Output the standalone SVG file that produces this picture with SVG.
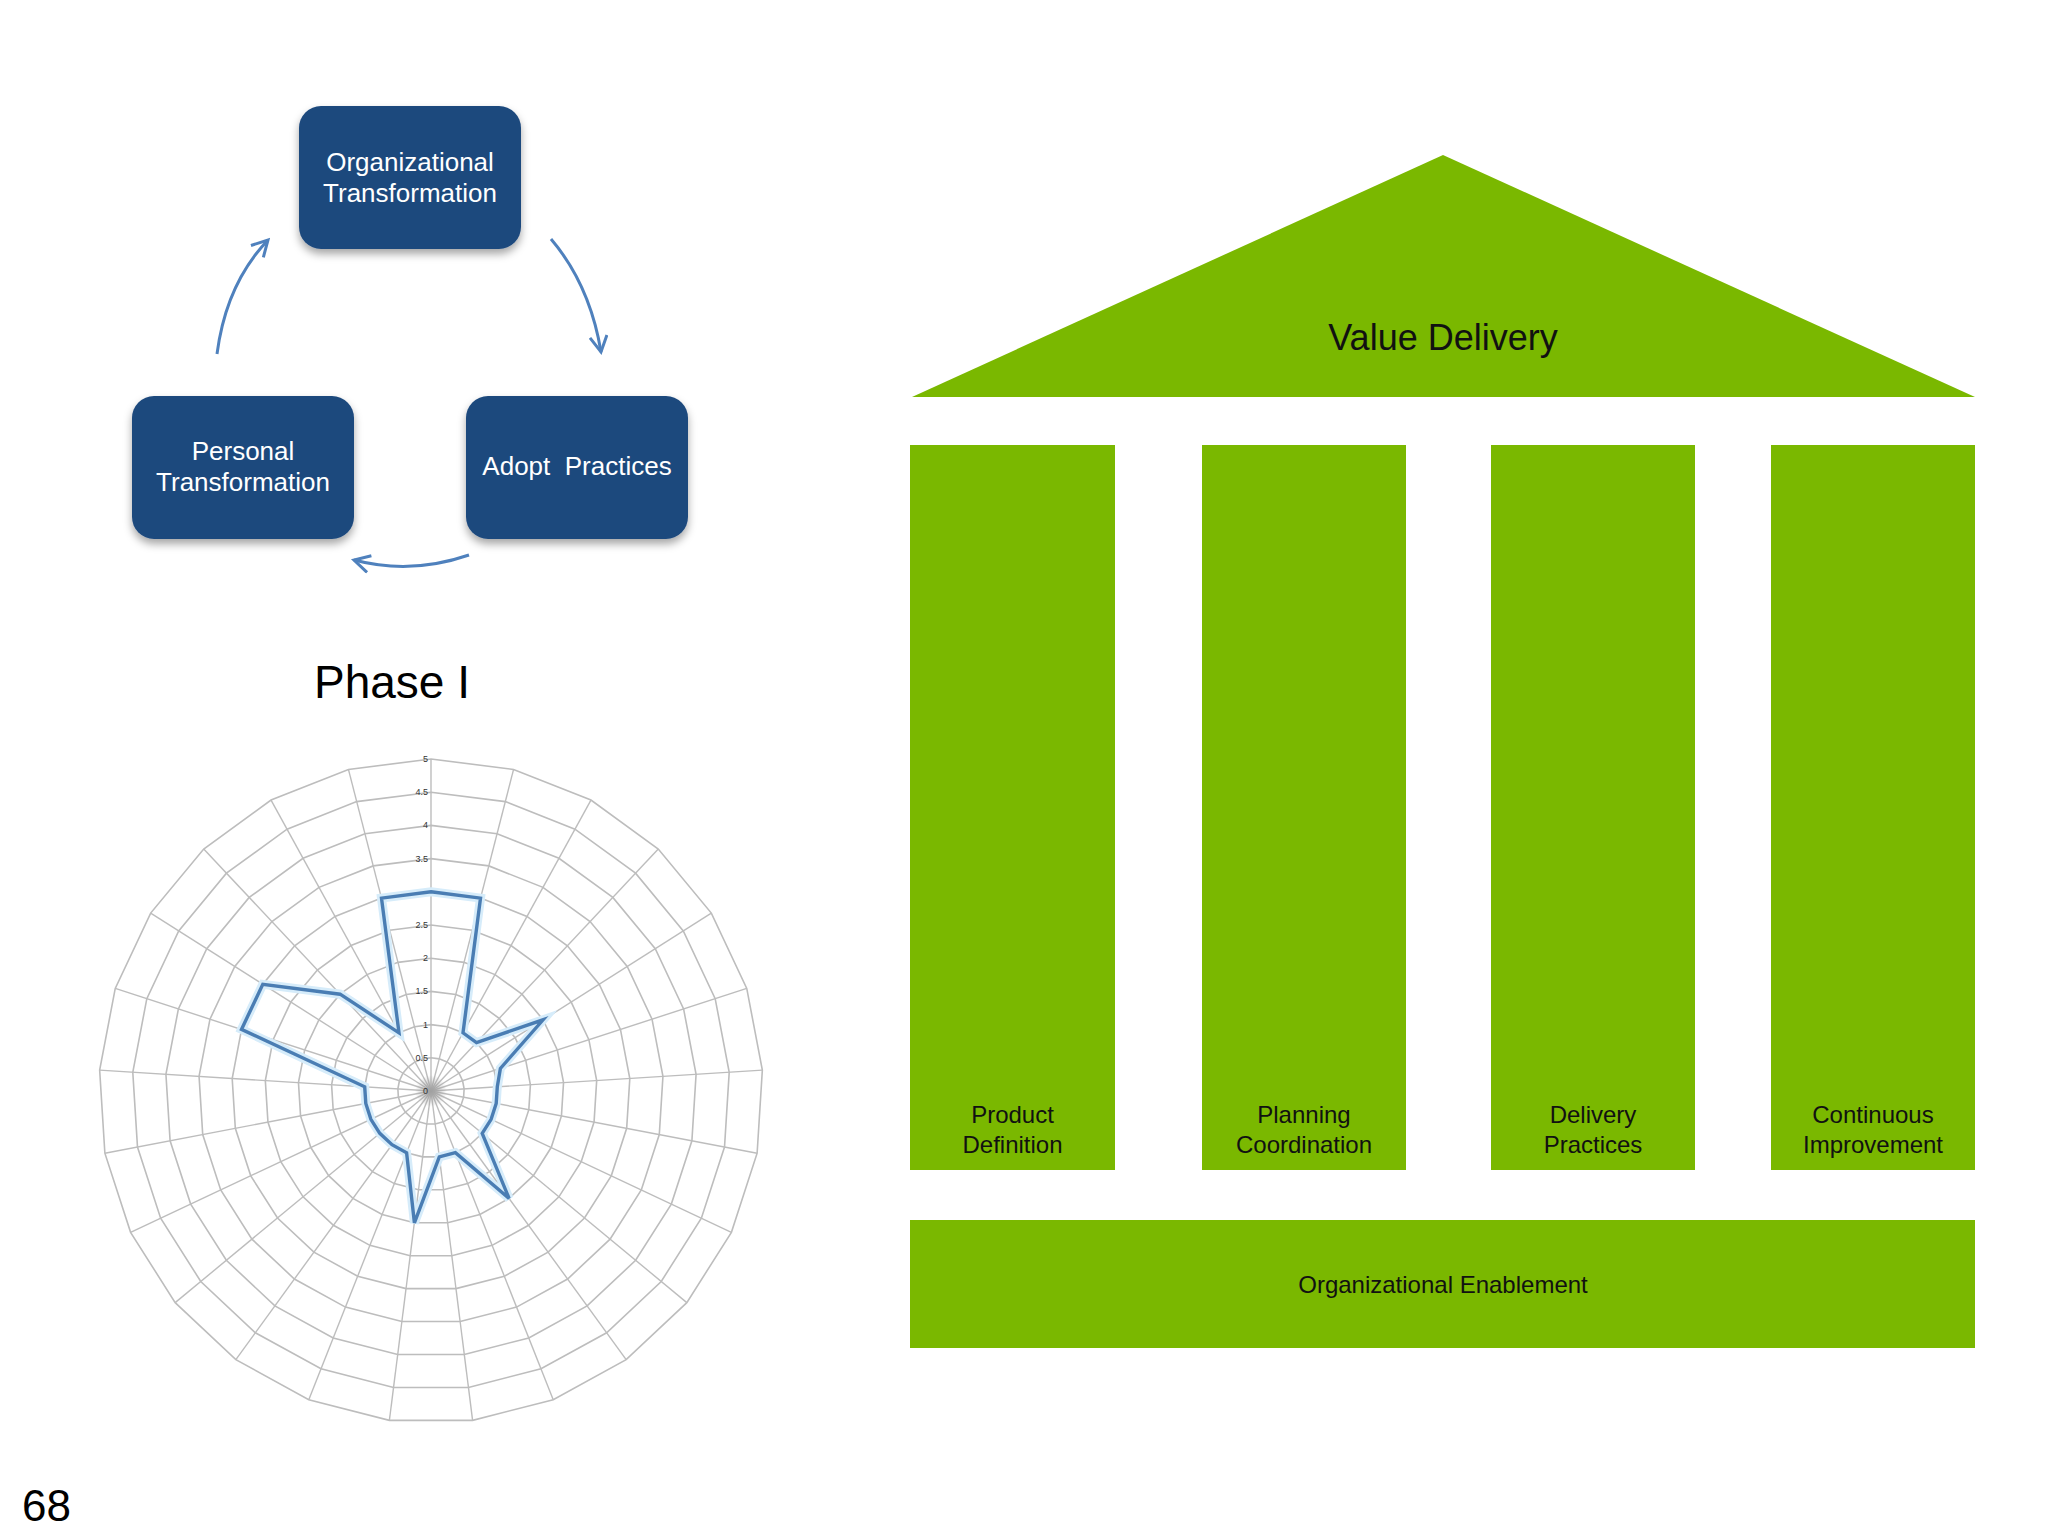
<svg xmlns="http://www.w3.org/2000/svg" xmlns:xlink="http://www.w3.org/1999/xlink" width="2048" height="1536" viewBox="0 0 2048 1536">
  <style>
    .box { fill: #1f497d; }
    .boxtxt { font-family: "Liberation Sans", Arial, sans-serif; font-size: 26px; fill: #ffffff; text-anchor: middle; }
    .arrow { fill: none; stroke: #4f81bd; stroke-width: 3; marker-end: url(#vhead); }
    .green { fill: #7ab800; }
    .gtxt { font-family: "Liberation Sans", Arial, sans-serif; font-size: 24px; fill: #111111; text-anchor: middle; }
    .grid { fill: none; stroke: #bdbdbd; stroke-width: 1.6; vector-effect: non-scaling-stroke; }
    .spoke { stroke: #bdbdbd; stroke-width: 1.4; }
    .axlbl { font-family: "Liberation Sans", Arial, sans-serif; font-size: 9px; fill: #333333; text-anchor: end; }
  </style>
  <defs>
    <filter id="shadow" x="-20%" y="-20%" width="140%" height="150%">
      <feDropShadow dx="0" dy="5" stdDeviation="4" flood-color="#000000" flood-opacity="0.35"/>
    </filter>
    <marker id="vhead" viewBox="0 0 14 14" refX="12" refY="7" markerWidth="20" markerHeight="20" markerUnits="userSpaceOnUse" orient="auto">
      <path d="M1,1 L12,7 L1,13" fill="none" stroke="#4f81bd" stroke-width="2.1"/>
    </marker>
    <radialGradient id="hub">
      <stop offset="0" stop-color="#999999" stop-opacity="0.8"/>
      <stop offset="1" stop-color="#999999" stop-opacity="0"/>
    </radialGradient>
    <polygon id="ring" class="grid" points="0,-1 0.24869,-0.96858 0.48175,-0.87631 0.68455,-0.72897 0.84433,-0.53583 0.95106,-0.30902 0.99803,-0.06279 0.98229,0.18738 0.90483,0.42578 0.77051,0.63742 0.58779,0.80902 0.36812,0.92978 0.12533,0.99211 -0.12533,0.99211 -0.36812,0.92978 -0.58779,0.80902 -0.77051,0.63742 -0.90483,0.42578 -0.98229,0.18738 -0.99803,-0.06279 -0.95106,-0.30902 -0.84433,-0.53583 -0.68455,-0.72897 -0.48175,-0.87631 -0.24869,-0.96858"/>
    <line id="spoke" class="spoke" x1="0" y1="0" x2="0" y2="-332"/>
  </defs>

  <rect width="2048" height="1536" fill="#ffffff"/>

  <!-- Cycle diagram nodes -->
  <g id="node-org-transformation">
    <rect class="box" x="299" y="106" width="222" height="143" rx="22" filter="url(#shadow)"/>
    <text class="boxtxt" x="410" y="171">Organizational</text>
    <text class="boxtxt" x="410" y="202">Transformation</text>
  </g>
  <g id="node-personal-transformation">
    <rect class="box" x="132" y="396" width="222" height="143" rx="22" filter="url(#shadow)"/>
    <text class="boxtxt" x="243" y="460">Personal</text>
    <text class="boxtxt" x="243" y="491">Transformation</text>
  </g>
  <g id="node-adopt-practices">
    <rect class="box" x="466" y="396" width="222" height="143" rx="22" filter="url(#shadow)"/>
    <text class="boxtxt" x="577" y="475" xml:space="preserve">Adopt  Practices</text>
  </g>

  <g id="connectors">
    <path class="arrow" d="M217,354 Q226,284 268,240"/>
    <path class="arrow" d="M551,239 Q590,285 601,352"/>
    <path class="arrow" d="M469,555 Q411,575 354,560"/>
  </g>

  <!-- Phase I title -->
  <text x="392" y="698" font-family="Liberation Sans, Arial, sans-serif" font-size="46" fill="#000000" text-anchor="middle">Phase I</text>

  <!-- Radar chart -->
  <g id="radar-grid">
    <use xlink:href="#spoke" transform="translate(431,1091) rotate(0)"/>
    <use xlink:href="#spoke" transform="translate(431,1091) rotate(14.4)"/>
    <use xlink:href="#spoke" transform="translate(431,1091) rotate(28.8)"/>
    <use xlink:href="#spoke" transform="translate(431,1091) rotate(43.2)"/>
    <use xlink:href="#spoke" transform="translate(431,1091) rotate(57.6)"/>
    <use xlink:href="#spoke" transform="translate(431,1091) rotate(72)"/>
    <use xlink:href="#spoke" transform="translate(431,1091) rotate(86.4)"/>
    <use xlink:href="#spoke" transform="translate(431,1091) rotate(100.8)"/>
    <use xlink:href="#spoke" transform="translate(431,1091) rotate(115.2)"/>
    <use xlink:href="#spoke" transform="translate(431,1091) rotate(129.6)"/>
    <use xlink:href="#spoke" transform="translate(431,1091) rotate(144)"/>
    <use xlink:href="#spoke" transform="translate(431,1091) rotate(158.4)"/>
    <use xlink:href="#spoke" transform="translate(431,1091) rotate(172.8)"/>
    <use xlink:href="#spoke" transform="translate(431,1091) rotate(187.2)"/>
    <use xlink:href="#spoke" transform="translate(431,1091) rotate(201.6)"/>
    <use xlink:href="#spoke" transform="translate(431,1091) rotate(216)"/>
    <use xlink:href="#spoke" transform="translate(431,1091) rotate(230.4)"/>
    <use xlink:href="#spoke" transform="translate(431,1091) rotate(244.8)"/>
    <use xlink:href="#spoke" transform="translate(431,1091) rotate(259.2)"/>
    <use xlink:href="#spoke" transform="translate(431,1091) rotate(273.6)"/>
    <use xlink:href="#spoke" transform="translate(431,1091) rotate(288)"/>
    <use xlink:href="#spoke" transform="translate(431,1091) rotate(302.4)"/>
    <use xlink:href="#spoke" transform="translate(431,1091) rotate(316.8)"/>
    <use xlink:href="#spoke" transform="translate(431,1091) rotate(331.2)"/>
    <use xlink:href="#spoke" transform="translate(431,1091) rotate(345.6)"/>
    <use xlink:href="#ring" transform="translate(431,1091) scale(33.2)"/>
    <use xlink:href="#ring" transform="translate(431,1091) scale(66.4)"/>
    <use xlink:href="#ring" transform="translate(431,1091) scale(99.6)"/>
    <use xlink:href="#ring" transform="translate(431,1091) scale(132.8)"/>
    <use xlink:href="#ring" transform="translate(431,1091) scale(166)"/>
    <use xlink:href="#ring" transform="translate(431,1091) scale(199.2)"/>
    <use xlink:href="#ring" transform="translate(431,1091) scale(232.4)"/>
    <use xlink:href="#ring" transform="translate(431,1091) scale(265.6)"/>
    <use xlink:href="#ring" transform="translate(431,1091) scale(298.8)"/>
    <use xlink:href="#ring" transform="translate(431,1091) scale(332)"/>
    <circle cx="431" cy="1091" r="16" fill="url(#hub)"/>
  </g>
  <g id="radar-axis-labels">
    <text class="axlbl" x="428" y="1094">0</text>
    <text class="axlbl" x="428" y="1061">0.5</text>
    <text class="axlbl" x="428" y="1028">1</text>
    <text class="axlbl" x="428" y="994">1.5</text>
    <text class="axlbl" x="428" y="961">2</text>
    <text class="axlbl" x="428" y="928">2.5</text>
    <text class="axlbl" x="428" y="895">3</text>
    <text class="axlbl" x="428" y="862">3.5</text>
    <text class="axlbl" x="428" y="828">4</text>
    <text class="axlbl" x="428" y="795">4.5</text>
    <text class="axlbl" x="428" y="762">5</text>
  </g>
  <g id="radar-series">
    <polygon points="431,891.8 480.5,898.1 463,1032.8 476.5,1042.6 543.1,1019.8 500.4,1068.4 497.3,1086.8 496.2,1103.4 491.1,1119.3 482.2,1133.3 509.1,1198.4 455.4,1152.7 439.3,1156.9 414.4,1222.8 406.6,1152.7 392,1144.7 379.8,1133.3 370.9,1119.3 365.8,1103.4 364.7,1086.8 241.5,1029.4 262.8,984.3 340.1,994.2 399,1032.8 381.5,898.1" fill="none" stroke="#d6ecfa" stroke-width="9" stroke-linejoin="miter"/>
    <polygon points="431,891.8 480.5,898.1 463,1032.8 476.5,1042.6 543.1,1019.8 500.4,1068.4 497.3,1086.8 496.2,1103.4 491.1,1119.3 482.2,1133.3 509.1,1198.4 455.4,1152.7 439.3,1156.9 414.4,1222.8 406.6,1152.7 392,1144.7 379.8,1133.3 370.9,1119.3 365.8,1103.4 364.7,1086.8 241.5,1029.4 262.8,984.3 340.1,994.2 399,1032.8 381.5,898.1" fill="none" stroke="#4a7db3" stroke-width="3.4" stroke-linejoin="miter"/>
  </g>

  <!-- House -->
  <g id="node-value-delivery">
    <polygon class="green" points="1443,155 1975,397 912,397"/>
    <text x="1443" y="350" font-family="Liberation Sans, Arial, sans-serif" font-size="36" fill="#111111" text-anchor="middle">Value Delivery</text>
  </g>
  <g id="node-product-definition">
    <rect class="green" x="910" y="445" width="205" height="725"/>
    <text class="gtxt" x="1012.5" y="1123">Product</text>
    <text class="gtxt" x="1012.5" y="1153">Definition</text>
  </g>
  <g id="node-planning-coordination">
    <rect class="green" x="1202" y="445" width="204" height="725"/>
    <text class="gtxt" x="1304" y="1123">Planning</text>
    <text class="gtxt" x="1304" y="1153">Coordination</text>
  </g>
  <g id="node-delivery-practices">
    <rect class="green" x="1491" y="445" width="204" height="725"/>
    <text class="gtxt" x="1593" y="1123">Delivery</text>
    <text class="gtxt" x="1593" y="1153">Practices</text>
  </g>
  <g id="node-continuous-improvement">
    <rect class="green" x="1771" y="445" width="204" height="725"/>
    <text class="gtxt" x="1873" y="1123">Continuous</text>
    <text class="gtxt" x="1873" y="1153">Improvement</text>
  </g>
  <g id="node-organizational-enablement">
    <rect class="green" x="910" y="1220" width="1065" height="128"/>
    <text class="gtxt" x="1443" y="1293">Organizational Enablement</text>
  </g>

  <text x="22" y="1521" font-family="Liberation Sans, Arial, sans-serif" font-size="44" fill="#000000">68</text>
</svg>
